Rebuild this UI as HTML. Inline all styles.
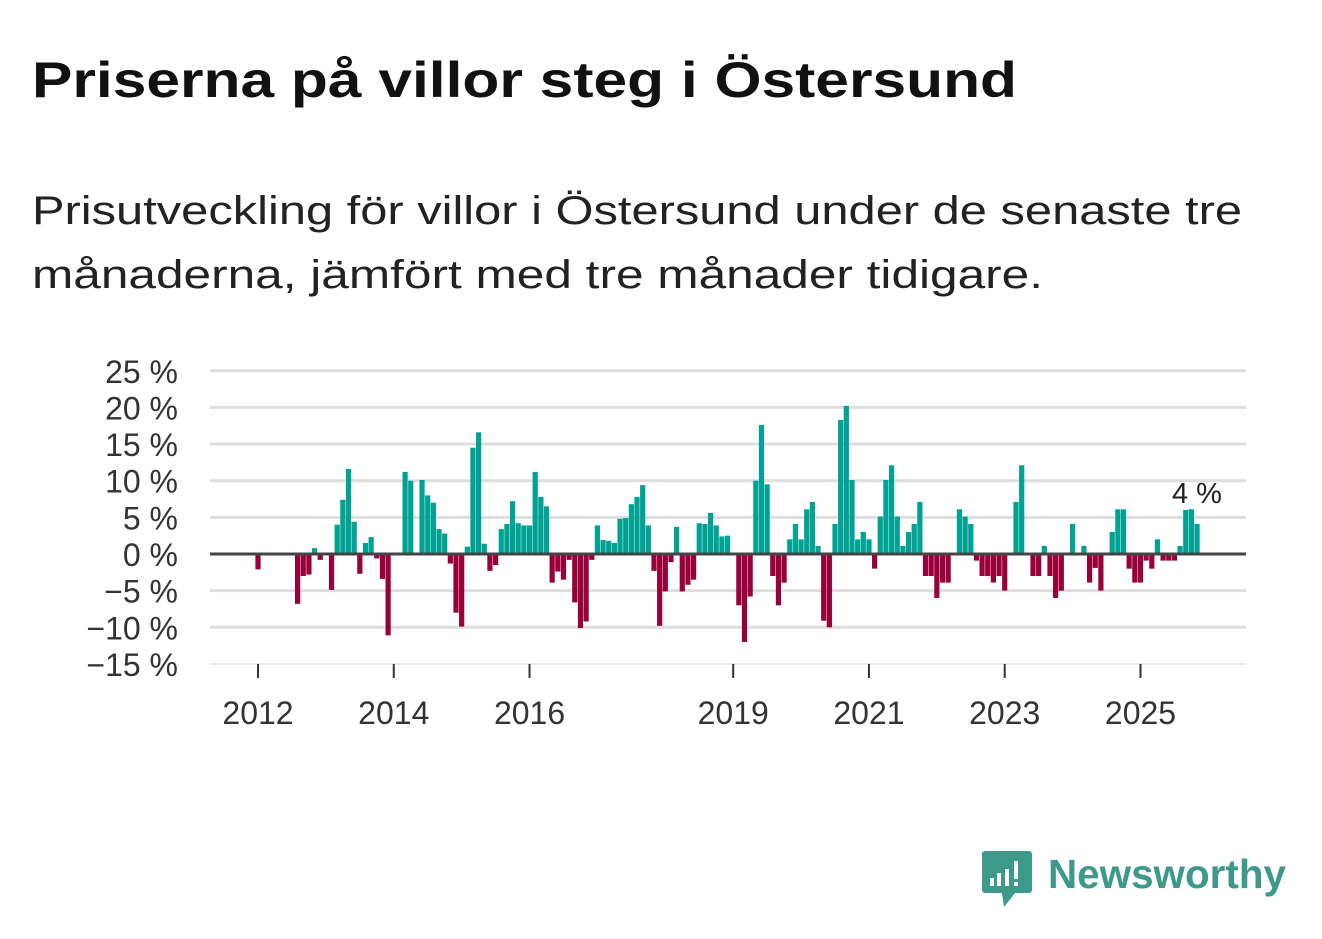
<!DOCTYPE html>
<html><head><meta charset="utf-8"><style>
html,body{margin:0;padding:0;background:#fff;}
svg{display:block;font-family:"Liberation Sans",sans-serif;}
</style></head><body>
<svg id="chart" width="1322" height="939" viewBox="0 0 1322 939" xmlns="http://www.w3.org/2000/svg">
<text x="32" y="97" font-size="50" font-weight="bold" fill="#111" textLength="985" lengthAdjust="spacingAndGlyphs">Priserna på villor steg i Östersund</text>
<text x="32" y="224" font-size="40" fill="#222" textLength="1210" lengthAdjust="spacingAndGlyphs">Prisutveckling för villor i Östersund under de senaste tre</text>
<text x="32" y="288" font-size="40" fill="#222" textLength="1011" lengthAdjust="spacingAndGlyphs">månaderna, jämfört med tre månader tidigare.</text>
<g id="grid"></g>
<g id="yaxis"></g>
<g id="xaxis"></g>
<g id="bars"></g>
<line x1="210" x2="1246" y1="554" y2="554" stroke="#444" stroke-width="3"/>
<text x="1197" y="503" font-size="29" fill="#222" text-anchor="middle">4 %</text>
<g>
<path d="M985 851 h44 a3 3 0 0 1 3 3 v36 a3 3 0 0 1 -3 3 h-14 l-11 14 l-2 -14 h-17 a3 3 0 0 1 -3 -3 v-36 a3 3 0 0 1 3 -3z" fill="#3d9a8b"/>
<rect x="990" y="878" width="4" height="8" fill="#fff"/><rect x="997" y="873" width="4" height="13" fill="#fff"/><rect x="1005" y="869" width="4" height="17" fill="#fff"/><rect x="1014" y="861" width="4" height="18" fill="#fff"/><rect x="1014" y="882" width="4" height="4" fill="#fff"/>
<text x="1048" y="888" font-size="41" font-weight="bold" fill="#3d9a8b" textLength="238" lengthAdjust="spacingAndGlyphs">Newsworthy</text>
</g>
</svg>
<script>
const monthIdx = [0,7,8,9,10,11,13,14,15,16,17,18,19,20,21,22,23,26,27,29,30,31,32,33,34,35,36,37,38,39,40,41,42,43,44,45,46,47,48,49,50,51,52,53,54,55,56,57,58,59,60,61,62,63,64,65,66,67,68,69,70,71,72,73,74,75,76,77,78,79,80,81,82,83,85,86,87,88,89,90,91,92,93,94,95,96,97,98,99,100,101,102,103,104,105,106,107,108,109,110,111,112,113,114,115,116,117,118,119,120,121,122,124,125,126,127,128,129,130,131,132,134,135,137,138,139,140,141,142,144,146,147,148,149,151,152,153,154,155,156,157,158,159,160,161,162,163,164,165,166];
const values = [-2.1,-6.8,-3,-2.8,0.8,-0.8,-4.9,4,7.4,11.6,4.4,-2.7,1.5,2.3,-0.6,-3.4,-11.1,11.2,10,10.1,8,7,3.4,2.8,-1.3,-8,-9.9,1,14.5,16.6,1.4,-2.3,-1.5,3.4,4.1,7.2,4.2,3.9,3.9,11.2,7.8,6.5,-3.9,-2.4,-3.5,-0.8,-6.6,-10.1,-9.2,-0.8,3.9,1.9,1.8,1.5,4.8,4.9,6.8,7.8,9.4,3.9,-2.3,-9.8,-5.1,-1.1,3.7,-5.1,-4.2,-3.5,4.2,4.1,5.6,3.9,2.4,2.5,-7,-12,-5.8,10,17.6,9.5,-3,-7,-3.9,2,4.1,2,6.1,7.1,1.1,-9.1,-10,4.1,18.3,20.2,10.1,2,3,2,-2,5.1,10.1,12.1,5.1,1.1,3,4.1,7.1,-3,-3,-6,-3.9,-3.9,6.1,5.1,4.1,-0.9,-3,-3,-3.9,-3,-5,7.1,12.1,-3,-3,1.1,-3,-6,-5,4.1,1.1,-3.9,-1.9,-5,3,6.1,6.1,-2,-3.9,-3.9,-0.9,-2,2,-0.9,-0.9,-0.9,1.1,6,6.1,4.1];
const yTicks = [25,20,15,10,5,0,-5,-10,-15];
const yTickLabels = ["25 %","20 %","15 %","10 %","5 %","0 %","\u22125 %","\u221210 %","\u221215 %"];
const xTickYears = [2012,2014,2016,2019,2021,2023,2025];

const NS = "http://www.w3.org/2000/svg";
function y(v){ return 554 - v * 7.33; }
function x(m){ return 258 + m * 5.657; }
function xYear(yr){ return x((yr - 2012) * 12); }
function mk(tag, attrs, parent){ const e = document.createElementNS(NS, tag); for (const k in attrs) e.setAttribute(k, attrs[k]); parent.appendChild(e); return e; }

const grid = document.getElementById('grid'), yax = document.getElementById('yaxis'), xax = document.getElementById('xaxis'), bars = document.getElementById('bars');
yTicks.forEach((t, i) => {
  if (t !== -15) {
    const l = mk('line', {x1:210, x2:1246, y1:y(t), y2:y(t), stroke:'#dedede', 'stroke-width':3}, grid);
    
    
  }
  const tx = mk('text', {x:178, y:y(t)+12, 'font-size':32, fill:'#333', 'text-anchor':'end'}, yax);
  tx.textContent = yTickLabels[i];
  
  
});
const base = mk('line', {x1:210, x2:1246, y1:y(-15), y2:y(-15), stroke:'#e4e4e4', 'stroke-width':1.5}, xax);


xTickYears.forEach(yr => {
  const tk = mk('line', {x1:xYear(yr), x2:xYear(yr), y1:y(-15), y2:y(-15)+14, stroke:'#333', 'stroke-width':2}, xax);
  
  
  const tx = mk('text', {x:xYear(yr), y:724, 'font-size':32, fill:'#333', 'text-anchor':'middle'}, xax);
  tx.textContent = yr;
  
  
});
monthIdx.forEach((m, i) => {
  const v = values[i];
  const top = Math.min(y(v), y(0)), h = Math.abs(y(v) - y(0));
  const r = mk('rect', {x:x(m)-2.6, y:top, width:5.2, height:h, fill: v >= 0 ? '#00a294' : '#990039'}, bars);
  
  
});
</script>
</body></html>
